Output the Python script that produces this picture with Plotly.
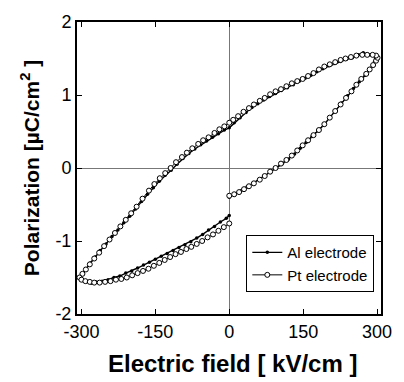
import plotly.graph_objects as go

# Pt electrode (open circles): loop starting at E=0 on rising branch
pt_E = [0, 10, 20, 30, 40, 50, 62, 72, 83, 94, 105, 116, 127, 138, 149, 160, 171, 182, 193, 204,
        215, 226, 237, 248, 258, 268, 278, 285, 292, 298, 301,
        298, 291, 280, 270, 258, 247, 236, 226, 215, 204, 193, 182, 171, 160, 149, 138, 127, 116, 105,
        94, 83, 72, 62, 50, 40, 29, 18, 8, 0, -10, -20, -30, -42, -53, -63, -75, -86, -96, -108,
        -119, -130, -141, -152, -163, -176, -188, -199, -210, -221, -232, -243, -254, -264, -274,
        -283, -291, -298, -304,
        -300, -292, -283, -274, -263, -252, -241, -230, -219, -208, -197, -186, -175, -164, -153,
        -142, -131, -120, -109, -98, -87, -77, -66, -55, -44, -33, -22, -11, 0]
pt_P = [-0.38, -0.36, -0.33, -0.29, -0.25, -0.21, -0.16, -0.11, -0.05, 0.00, 0.06, 0.11, 0.17, 0.24,
        0.31, 0.38, 0.45, 0.52, 0.60, 0.69, 0.78, 0.87, 0.96, 1.05, 1.14, 1.22, 1.29, 1.35, 1.41,
        1.47, 1.51,
        1.54, 1.55, 1.55, 1.55, 1.54, 1.52, 1.50, 1.48, 1.45, 1.42, 1.39, 1.35, 1.30, 1.26, 1.22,
        1.19, 1.16, 1.12, 1.08, 1.05, 1.01, 0.96, 0.92, 0.87, 0.82, 0.77, 0.71, 0.66, 0.62, 0.57,
        0.53, 0.48, 0.42, 0.38, 0.33, 0.27, 0.21, 0.15, 0.08, 0.00, -0.07, -0.14, -0.22, -0.31,
        -0.42, -0.53, -0.62, -0.71, -0.80, -0.89, -0.98, -1.07, -1.16, -1.24, -1.32, -1.39, -1.45,
        -1.50,
        -1.53, -1.55, -1.56, -1.57, -1.57, -1.56, -1.55, -1.53, -1.52, -1.50, -1.47, -1.44, -1.41,
        -1.38, -1.34, -1.30, -1.26, -1.22, -1.18, -1.15, -1.11, -1.08, -1.04, -1.00, -0.95, -0.91,
        -0.86, -0.81, -0.76]

# Al electrode (filled dots)
al_E = [0, 12, 24, 36, 48, 60, 72, 84, 96, 108, 120, 132, 144, 156, 168, 180, 192, 204, 216, 228,
        240, 252, 264, 276, 286, 295,
        295, 285, 272, 262, 250, 238, 226, 214, 202, 190, 178, 166, 154, 142, 130, 118, 106, 94, 82,
        70, 58, 46, 34, 22, 10, 0, -10, -22, -34, -46, -58, -70, -82, -94, -106, -118, -130, -142,
        -154, -166, -178, -190, -202, -214, -226, -238, -250, -262, -272, -282, -290, -297, -303,
        -298, -290, -280, -270, -258, -246, -234, -222, -210, -198, -186, -174, -162, -150, -138,
        -126, -114, -102, -90, -78, -66, -54, -42, -30, -18, -6, 0]
al_P = [-0.40, -0.36, -0.31, -0.26, -0.21, -0.16, -0.11, -0.06, 0.00, 0.06, 0.12, 0.19, 0.27, 0.35,
        0.43, 0.51, 0.59, 0.69, 0.79, 0.89, 0.99, 1.09, 1.18, 1.27, 1.36, 1.46,
        1.54, 1.55, 1.58, 1.55, 1.51, 1.49, 1.46, 1.43, 1.40, 1.36, 1.32, 1.27, 1.23, 1.19, 1.14,
        1.10, 1.06, 1.02, 0.98, 0.93, 0.88, 0.83, 0.76, 0.69, 0.62, 0.55, 0.52, 0.47, 0.42, 0.37,
        0.32, 0.26, 0.20, 0.13, 0.05, -0.03, -0.10, -0.18, -0.27, -0.36, -0.46, -0.56, -0.66, -0.75,
        -0.85, -0.94, -1.04, -1.13, -1.22, -1.30, -1.38, -1.45, -1.50,
        -1.54, -1.56, -1.58, -1.56, -1.55, -1.53, -1.50, -1.48, -1.44, -1.41, -1.37, -1.33, -1.29,
        -1.25, -1.21, -1.17, -1.13, -1.09, -1.05, -1.01, -0.96, -0.91, -0.85, -0.80, -0.74, -0.69,
        -0.65]

x_ticks = [-300, -150, 0, 150, 300]
y_ticks = [-2, -1, 0, 1, 2]
x_title = "Electric field [ kV/cm ]"
y_title = "Polarization [µC/cm<sup>2</sup> ]"

FONT = "Liberation Sans, Arial, sans-serif"

fig = go.Figure()
fig.add_trace(go.Scatter(
    x=al_E, y=al_P, mode="lines+markers", name="Al electrode",
    line=dict(color="black", width=1.4),
    marker=dict(symbol="circle", size=3.5, color="black"),
))
fig.add_trace(go.Scatter(
    x=pt_E, y=pt_P, mode="lines+markers", name="Pt electrode",
    line=dict(color="black", width=1),
    marker=dict(symbol="circle", size=5, color="white", line=dict(color="black", width=1)),
))

axis_common = dict(
    showgrid=False, ticks="inside", ticklen=5, tickwidth=1, tickcolor="black",
    showline=True, linecolor="black", linewidth=2, mirror="ticks",
    zeroline=True, zerolinecolor="#777777", zerolinewidth=1,
    tickfont=dict(family=FONT, size=18, color="black"),
)

fig.update_xaxes(
    range=[-309, 308], tickvals=x_ticks, ticktext=[str(v) for v in x_ticks],
    **axis_common,
)
fig.update_yaxes(
    range=[-2, 2], tickvals=y_ticks, ticktext=[str(v) for v in y_ticks],
    title=dict(text=f"<b>{y_title}</b>",
               font=dict(family=FONT, size=21, color="black"), standoff=10),
    **axis_common,
)

fig.add_annotation(
    text=f"<b>{x_title}</b>", xref="paper", yref="paper", x=0.51, y=-0.168,
    xanchor="center", yanchor="middle", showarrow=False,
    font=dict(family=FONT, size=24, color="black"),
)

fig.update_layout(
    width=404, height=382,
    margin=dict(l=77, r=14, t=16, b=68),
    paper_bgcolor="white", plot_bgcolor="white",
    showlegend=True,
    legend=dict(
        x=0.978, y=0.075, xanchor="right", yanchor="bottom",
        bgcolor="white", bordercolor="black", borderwidth=1,
        font=dict(family=FONT, size=15, color="black"),
        tracegroupgap=0, itemwidth=30,
    ),
)

fig.write_html("out.html")
